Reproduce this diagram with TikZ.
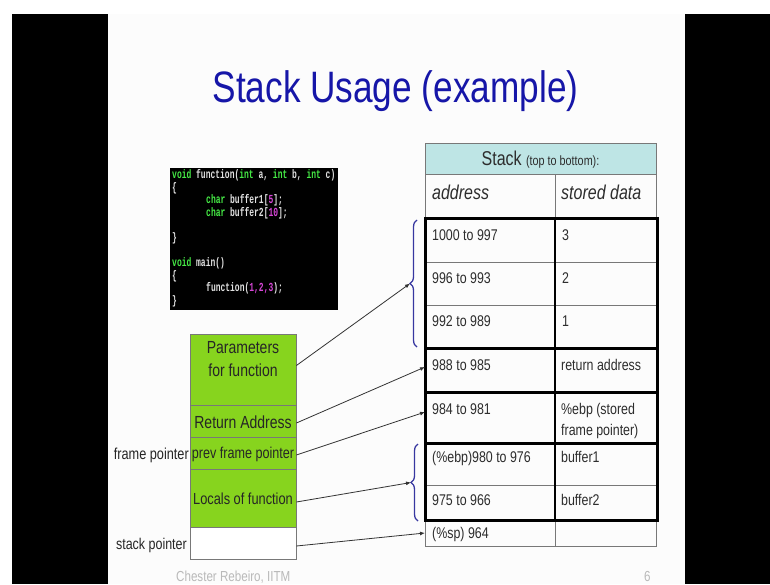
\documentclass[tikz,border=0pt]{standalone}
\usepackage{fontspec}
\setmainfont[FakeStretch=0.8]{Liberation Sans}
\newfontfamily\codefont[FakeStretch=0.65]{Liberation Mono}
\usetikzlibrary{arrows.meta,decorations.pathreplacing}
\definecolor{titleblue}{RGB}{22,22,168}
\definecolor{slidebg}{RGB}{252,252,252}
\definecolor{kwgreen}{RGB}{70,235,70}
\definecolor{numpink}{RGB}{215,70,215}
\definecolor{codetext}{RGB}{225,225,225}
\definecolor{headcyan}{RGB}{190,229,229}
\definecolor{stackgreen}{RGB}{135,212,30}
\definecolor{bracecol}{RGB}{55,55,160}
\definecolor{celltxt}{RGB}{45,45,45}
\definecolor{gridgray}{RGB}{120,120,120}
\definecolor{footgray}{RGB}{185,185,185}
\newcommand\cKw[1]{\textcolor{kwgreen}{#1}}
\newcommand\cNum[1]{\textcolor{numpink}{#1}}
\tikzset{
  codeline/.style={anchor=base west, inner sep=0pt, text=codetext, font=\codefont\bfseries\fontsize{12.3}{13}\selectfont},
  celltext/.style={anchor=base west, inner sep=0pt, text=celltxt, font=\fontsize{15.5}{21}\selectfont},
  headtext/.style={anchor=base west, inner sep=0pt, text=celltxt, font=\itshape\fontsize{20}{24}\selectfont},
  stackbox/.style={draw=gridgray, line width=0.8pt, fill=stackgreen, minimum width=106pt, inner sep=0pt},
  stacktext/.style={inner sep=0pt, text=black!85, align=center},
  sidelabel/.style={anchor=base east, inner sep=0pt, text=black!85},
  ptr/.style={draw=black!80, line width=0.8pt, -{Latex[length=5pt,width=4pt]}},
  thinline/.style={draw=gridgray, line width=0.9pt},
  thickbox/.style={draw=black, line width=3pt},
  bracestyle/.style={draw=bracecol, line width=1.3pt, decorate, decoration={brace, amplitude=7pt}}
}
\begin{document}
\begin{tikzpicture}[x=1pt,y=-1pt]
\useasboundingbox (0,0) rectangle (770,584);
\fill[white] (0,0) rectangle (770,584);
\fill[black] (12,14) rectangle (108,584);
\fill[black] (685,14) rectangle (770,584);
\fill[slidebg] (108,14) rectangle (685,584);

% title
\node[anchor=base, inner sep=0pt, text=titleblue, font=\fontsize{44}{50}\selectfont] (title) at (395.5,102) {Stack Usage (example)};

% code box
\fill[black] (170,168) rectangle (338,310);
\node[codeline] (c1) at (172,178.5) {\cKw{void} function(\cKw{int} a, \cKw{int} b, \cKw{int} c)};
\node[codeline] (c2) at (172,191.1) {\{};
\node[codeline] (c3) at (172,203.7) {\hspace*{34pt}\cKw{char} buffer1[\cNum{5}];};
\node[codeline] (c4) at (172,216.3) {\hspace*{34pt}\cKw{char} buffer2[\cNum{10}];};
\node[codeline] (c6) at (172,241.5) {\}};
\node[codeline] (c8) at (172,266.7) {\cKw{void} main()};
\node[codeline] (c9) at (172,279.3) {\{};
\node[codeline] (c10) at (172,291.9) {\hspace*{34pt}function(\cNum{1,2,3});};
\node[codeline] (c11) at (172,304.5) {\}};

% stack table
\fill[headcyan] (425,143) rectangle (656,174);
\draw[thinline] (425,143) rectangle (656,174);
\draw[thinline] (425,174) rectangle (656,218);
\draw[thinline] (555,174) -- (555,218);
\draw[thinline] (425,262) -- (656,262);
\draw[thinline] (425,305) -- (656,305);
\draw[thinline] (425,485) -- (656,485);
\draw[thinline] (425,520) rectangle (656,546);
\draw[thinline] (555,520) -- (555,546);
\draw[black, line width=1.6pt] (555,218) -- (555,520);
\draw[thickbox] (425,218) rectangle (657,348);
\draw[thickbox] (425,348) rectangle (657,392);
\draw[thickbox] (425,392) rectangle (657,443);
\draw[thickbox] (425,443) rectangle (657,520);

\node[anchor=base, inner sep=0pt, text=celltxt] (hdr) at (540.5,165) {\fontsize{20}{24}\selectfont Stack \fontsize{13.5}{16}\selectfont(top to bottom):};
\node[headtext] (haddr) at (432,199) {address};
\node[headtext] (hdata) at (561,199) {stored data};

\node[celltext] (a1) at (432,240) {1000 to 997};
\node[celltext] (d1) at (562,240) {3};
\node[celltext] (a2) at (432,283) {996 to 993};
\node[celltext] (d2) at (562,283) {2};
\node[celltext] (a3) at (432,326) {992 to 989};
\node[celltext] (d3) at (562,326) {1};
\node[celltext] (a4) at (432,370) {988 to 985};
\node[celltext] (d4) at (561,370) {return address};
\node[celltext] (a5) at (432,414) {984 to 981};
\node[celltext] (d5) at (561,414) {\%ebp (stored};
\node[celltext] (d5b) at (561,435) {frame pointer)};
\node[celltext] (a6) at (432,462) {(\%ebp)980 to 976};
\node[celltext] (d6) at (561,462) {buffer1};
\node[celltext] (a7) at (432,505) {975 to 966};
\node[celltext] (d7) at (561,505) {buffer2};
\node[celltext] (a8) at (432,538) {(\%sp) 964};

% braces
\draw[bracestyle] (417,347) -- (417,220);
\draw[bracestyle] (418,521) -- (418,444);
\coordinate (b1) at (410,283.5);
\coordinate (b2) at (411,482.5);
\coordinate (t988) at (425,367);
\coordinate (t984) at (425,412);
\coordinate (tsp) at (425,533);

% left stack
\node[stackbox, minimum height=71pt] (params) at (243,369.5) {};
\node[stackbox, minimum height=32pt] (ret) at (243,421) {};
\node[stackbox, minimum height=32pt] (prevfp) at (243,453) {};
\node[stackbox, minimum height=58pt] (locals) at (243,498) {};
\node[stackbox, minimum height=32pt, fill=white] (spbox) at (243,543) {};

\node[stacktext, font=\fontsize{17.5}{23}\selectfont] (tparams) at (243,359.5) {Parameters\\for function};
\node[stacktext, font=\fontsize{17.5}{21}\selectfont] (tret) at (243,422) {Return Address};
\node[stacktext, font=\fontsize{15.75}{19}\selectfont] (tprev) at (243,454) {prev frame pointer};
\node[stacktext, font=\fontsize{16}{19}\selectfont] (tloc) at (243,499) {Locals of function};

\node[sidelabel, font=\fontsize{15.9}{19}\selectfont] (lfp) at (189,459) {frame pointer};
\node[sidelabel, font=\fontsize{15.6}{19}\selectfont] (lsp) at (187,549.5) {stack pointer};

% connectors
\draw[ptr] ([yshift=4pt]params.east) -- (b1);
\draw[ptr] ([yshift=-2pt]ret.east) -- (t988);
\draw[ptr] ([yshift=-2pt]prevfp.east) -- (t984);
\draw[ptr] ([yshift=-4pt]locals.east) -- (b2);
\draw[ptr] ([yshift=-3pt]spbox.east) -- (tsp);

% footer
\node[anchor=base west, inner sep=0pt, text=footgray, font=\fontsize{14.5}{17}\selectfont] (foot) at (176,581) {Chester Rebeiro, IITM};
\node[anchor=base west, inner sep=0pt, text=footgray, font=\fontsize{14.5}{17}\selectfont] (pnum) at (644,581) {6};
\end{tikzpicture}
\end{document}
